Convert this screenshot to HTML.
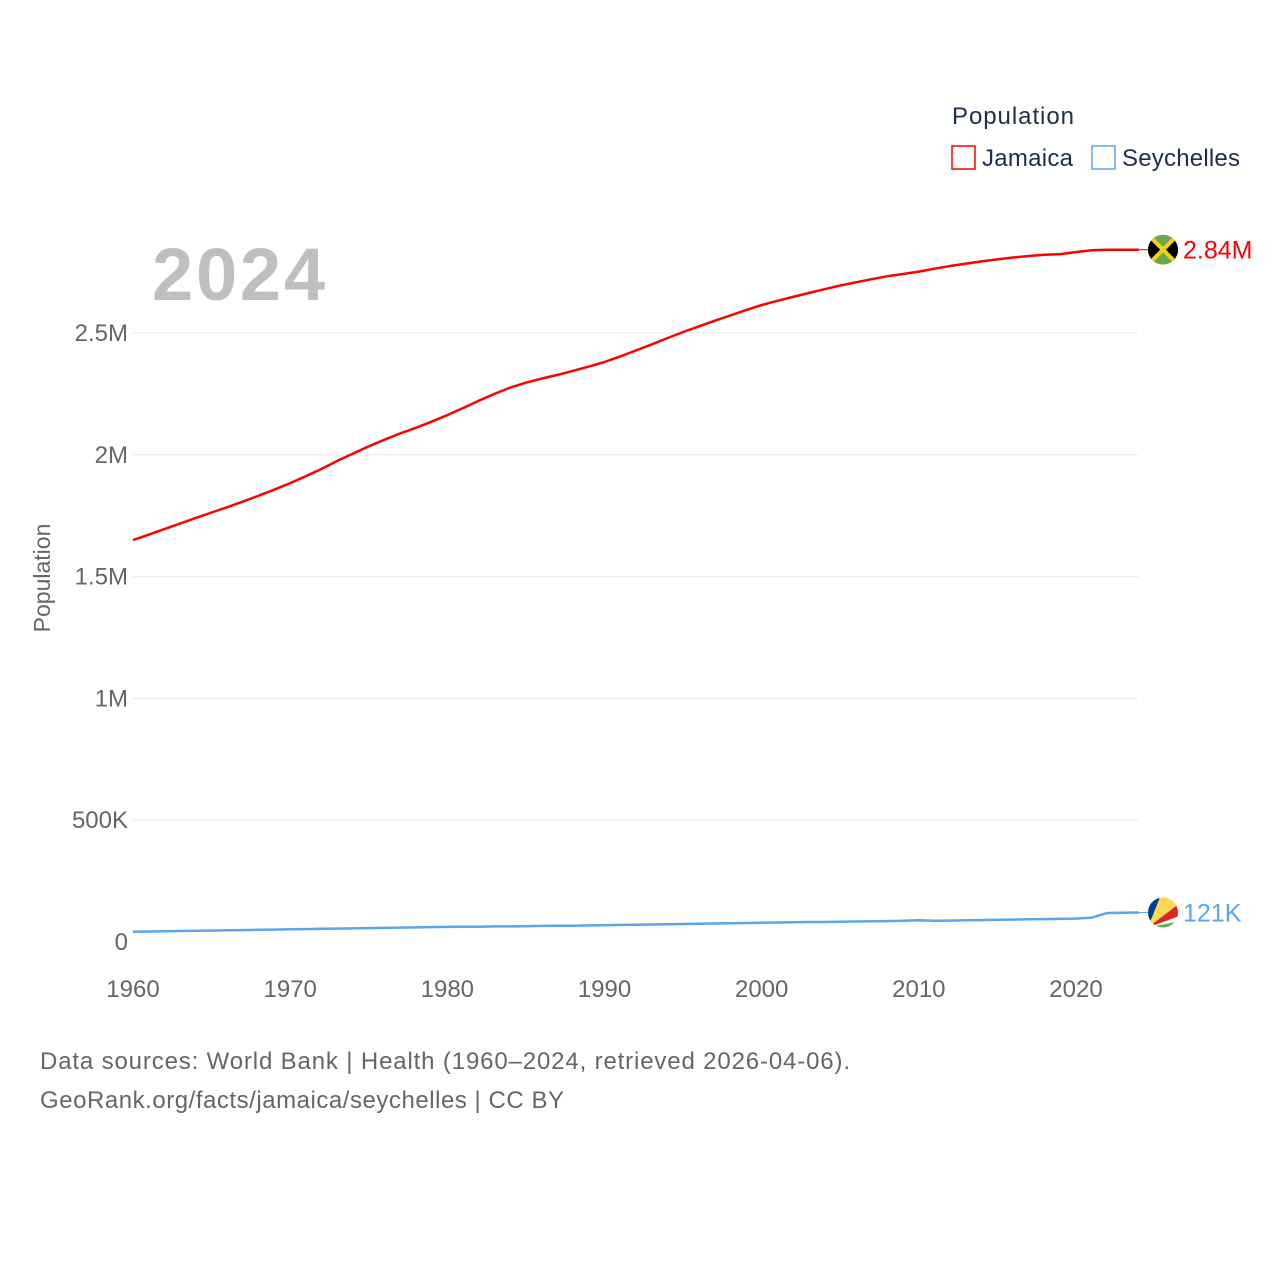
<!DOCTYPE html>
<html><head><meta charset="utf-8"><style>
body{margin:0;background:#fff;}
svg{display:block;font-family:"Liberation Sans",sans-serif;}
</style></head><body>
<svg id="chart" width="1280" height="1280">
<text x="952" y="124" font-size="24" fill="#1f2d4d" textLength="122">Population</text>
<g><rect x="952" y="146" width="23" height="23" fill="none" stroke="#ff0000" stroke-width="1.5"/><text x="982" y="166" font-size="24" fill="#1f2d4d" textLength="91">Jamaica</text></g>
<g><rect x="1092" y="146" width="23" height="23" fill="none" stroke="#5aa6ea" stroke-width="1.5"/><text x="1122" y="166" font-size="24" fill="#1f2d4d" textLength="118">Seychelles</text></g>
<text x="152" y="300" font-size="74" font-weight="bold" fill="#bfbfbf" textLength="173">2024</text>
<text transform="translate(50,578) rotate(-90)" text-anchor="middle" font-size="23" fill="#666">Population</text>
<g id="grid"></g><g id="xt"></g><g id="lines"></g>
<text x="40" y="1069" font-size="24" fill="#666" textLength="810">Data sources: World Bank | Health (1960–2024, retrieved 2026-04-06).</text>
<text x="40" y="1108" font-size="24" fill="#666" textLength="524">GeoRank.org/facts/jamaica/seychelles | CC BY</text>
</svg>
<script>
const years=[];for(let y=1960;y<=2024;y++)years.push(y);
const jamaica=[1.650,1.672,1.695,1.718,1.741,1.763,1.785,1.808,1.832,1.857,1.884,1.912,1.942,1.975,2.005,2.035,2.062,2.088,2.111,2.136,2.163,2.192,2.222,2.250,2.276,2.296,2.313,2.328,2.345,2.362,2.381,2.404,2.428,2.453,2.479,2.504,2.527,2.550,2.572,2.594,2.615,2.632,2.648,2.664,2.680,2.695,2.708,2.721,2.733,2.742,2.752,2.764,2.775,2.785,2.794,2.802,2.810,2.816,2.821,2.824,2.832,2.840,2.842,2.842,2.842];
const seychelles=[42,43,44,45,46,47,48,49,50,51,52,53,54,55,56,57,58,59,60,61,62,63,63,64,64,65,66,67,67,68,69,70,71,72,73,74,75,76,77,78,79,80,81,82,82,83,84,85,86,87,89,87,88,89,90,91,92,93,94,95,96,100,119,120,121];
const yTicks=[0,500000,1000000,1500000,2000000,2500000];
const yTickLabels=["0","500K","1M","1.5M","2M","2.5M"];
const xTicks=[1960,1970,1980,1990,2000,2010,2020];
const NS="http://www.w3.org/2000/svg";
const X=v=>133+(v-1960)*(1076-133)/60;
const Y=v=>942-v*(942-333)/2500000;
function mk(t,a,p){const e=document.createElementNS(NS,t);for(const k in a)e.setAttribute(k,a[k]);p.appendChild(e);return e;}
const grid=document.getElementById('grid');
yTicks.forEach((t,i)=>{
 if(t>0){const l=mk('line',{x1:133,x2:1138,y1:Y(t),y2:Y(t),stroke:'#e8e8e8','stroke-width':1},grid);
 
 }
 const tx=mk('text',{x:128,y:Y(t)+8,'text-anchor':'end','font-size':24,fill:'#666'},grid);
 tx.textContent=yTickLabels[i];
 
 
});
const xt=document.getElementById('xt');
xTicks.forEach(t=>{const tx=mk('text',{x:X(t),y:997,'text-anchor':'middle','font-size':24,fill:'#666'},xt);
 tx.textContent=t;
 
 });
const lines=document.getElementById('lines');
function series(vals,scale,color,name,label,flag){
 const d=vals.map((v,i)=>(i?'L':'M')+X(years[i]).toFixed(1)+','+Y(v*scale).toFixed(1)).join('');
 const p=mk('path',{d:d,fill:'none',stroke:color,'stroke-width':2.5,'stroke-linejoin':'round'},lines);
 
 
 const ly=Y(vals[vals.length-1]*scale);
 mk('line',{x1:X(2024),x2:1150,y1:ly,y2:ly,stroke:color,'stroke-width':1},lines);
 const g=mk('g',{},lines);
 
 
 flag(g,1163,ly);
 const t=mk('text',{x:1183,y:ly+9,'font-size':25,fill:color},lines);
 t.textContent=label;
 
 
}
series(jamaica,1e6,'#ff0000','jamaica','2.84M',(g,cx,cy)=>{
 const d=mk('clipPath',{id:'jc'},g);mk('circle',{cx:cx,cy:cy,r:15},d);
 const h=mk('g',{'clip-path':'url(#jc)'},g);
 mk('rect',{x:cx-15,y:cy-15,width:30,height:30,fill:'#6aa84f'},h);
 mk('polygon',{points:`${cx-15},${cy-15} ${cx},${cy} ${cx-15},${cy+15}`,fill:'#000'},h);
 mk('polygon',{points:`${cx+15},${cy-15} ${cx},${cy} ${cx+15},${cy+15}`,fill:'#000'},h);
 mk('line',{x1:cx-15,y1:cy-15,x2:cx+15,y2:cy+15,stroke:'#f7d116','stroke-width':4},h);
 mk('line',{x1:cx+15,y1:cy-15,x2:cx-15,y2:cy+15,stroke:'#f7d116','stroke-width':4},h);
});
series(seychelles,1e3,'#5aa6ea','seychelles','121K',(g,cx,cy)=>{
 const d=mk('clipPath',{id:'sc'},g);mk('circle',{cx:cx,cy:cy,r:15},d);
 const h=mk('g',{'clip-path':'url(#sc)'},g);
 const bx=cx-15,by=cy+15;
 mk('rect',{x:cx-15,y:cy-15,width:30,height:30,fill:'#fff'},h);
 mk('polygon',{points:`${bx},${by} ${bx},${cy-15} ${cx-3},${cy-15}`,fill:'#003f87'},h);
 mk('polygon',{points:`${bx},${by} ${cx-3},${cy-15} ${cx+15},${cy-15} ${cx+15},${cy-8}`,fill:'#fcd856'},h);
 mk('polygon',{points:`${bx},${by} ${cx+15},${cy-8} ${cx+15},${cy+4}`,fill:'#d62828'},h);
 mk('polygon',{points:`${bx},${by} ${cx+15},${cy+9} ${cx+15},${cy+15}`,fill:'#6aa84f'},h);
});
</script>
</body></html>
